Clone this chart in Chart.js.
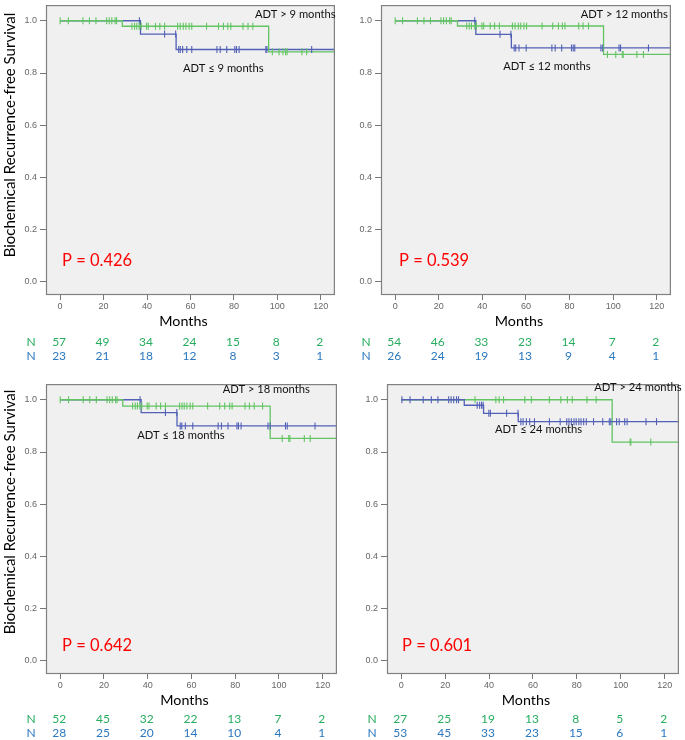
<!DOCTYPE html>
<html>
<head>
<meta charset="utf-8">
<script src="https://cdn.jsdelivr.net/npm/chart.js@4.4.1/dist/chart.umd.min.js"></script>
<style>
  html, body { margin: 0; padding: 0; background: #fff; }
  #wrap { position: relative; width: 685px; height: 740px; overflow: hidden; }
  canvas { position: absolute; }
</style>
</head>
<body>
<div id="wrap">
  <canvas id="c1" width="340" height="370" style="left:0px;top:0px;width:340px;height:370px"></canvas>
  <canvas id="c2" width="336" height="370" style="left:340px;top:0px;width:336px;height:370px"></canvas>
  <canvas id="c3" width="342" height="361" style="left:0px;top:379px;width:342px;height:361px"></canvas>
  <canvas id="c4" width="344" height="361" style="left:340px;top:379px;width:344px;height:361px"></canvas>
</div>
<script>
// --------------- Data ---------------
const xTicks = [0, 20, 40, 60, 80, 100, 120];
const yTicks = [0, 0.2, 0.4, 0.6, 0.8, 1.0];
const cutoffs = ["9", "12", "18", "24"];
const pValues = ["0.426", "0.539", "0.642", "0.601"];

// numbers at risk (green = ADT > cutoff, blue = ADT <= cutoff)
const atRiskLong9 = [57, 49, 34, 24, 15, 8, 2];
const atRiskShort9 = [23, 21, 18, 12, 8, 3, 1];
const atRiskLong12 = [54, 46, 33, 23, 14, 7, 2];
const atRiskShort12 = [26, 24, 19, 13, 9, 4, 1];
const atRiskLong18 = [52, 45, 32, 22, 13, 7, 2];
const atRiskShort18 = [28, 25, 20, 14, 10, 4, 1];
const atRiskLong24 = [27, 25, 19, 13, 8, 5, 2];
const atRiskShort24 = [53, 45, 33, 23, 15, 6, 1];

// Kaplan-Meier steps (months, survival)
const kmTimeLong9 = [0, 28.6, 96, 127];
const kmSurvLong9 = [1, 0.979, 0.881, 0.881];
const kmTimeShort9 = [0, 37, 53.4, 127];
const kmSurvShort9 = [1, 0.949, 0.890, 0.890];

const kmTimeLong12 = [0, 28.6, 95.6, 127];
const kmSurvLong12 = [1, 0.980, 0.871, 0.871];
const kmTimeShort12 = [0, 37, 53.3, 127];
const kmSurvShort12 = [1, 0.948, 0.896, 0.896];

const kmTimeLong18 = [0, 28.6, 96, 127];
const kmSurvLong18 = [1, 0.976, 0.852, 0.852];
const kmTimeShort18 = [0, 37, 53.4, 127];
const kmSurvShort18 = [1, 0.951, 0.900, 0.900];

const kmTimeLong24 = [0, 96.1, 127];
const kmSurvLong24 = [1, 0.838, 0.838];
const kmTimeShort24 = [0, 28.7, 37.5, 53.3, 127];
const kmSurvShort24 = [1, 0.979, 0.948, 0.916, 0.916];

// censored observations (months)
const censorLong9 = [0, 3.8, 10.5, 13.5, 16.5, 21.4, 22.6, 23.8, 25.3, 26,
  33.1, 34.3, 35.3, 36.4, 37.3, 39.8, 40.6, 43.9, 45.9, 48.1, 54.1, 55.3, 56.7, 57.9,
  59.4, 60.6, 67.4, 72.9, 75.2, 77.2, 78.6, 84.2, 86.5, 88.7,
  97.7, 100.8, 102.6, 103.8, 104.5, 111.3, 113.5];
const censorShort9 = [36.5, 48.1, 53.2, 54.6, 55.3, 56.4, 58.3, 60.6, 72.2, 73.7, 76.7,
  80.4, 81.2, 82.4, 94.7, 95.2, 115.8];

const censorLong12 = [0, 3.4, 10.2, 13.2, 16.2, 21, 22.2, 23.5, 25, 25.7,
  32.8, 34, 35, 36.5, 37.3, 39.8, 40.6, 43.6, 45.6, 47.8, 53.8, 55, 56.5, 57.6,
  59.1, 60.3, 67.4, 72.3, 74.9, 76.7, 77.9, 84.2, 86.2, 88.7,
  97.4, 101.2, 104.2, 104.6, 110.9, 113.9];
const censorShort12 = [36.5, 48.1, 53.1, 54.6, 55.3, 56.8, 60.1, 71.9, 73.4, 76.4,
  80.9, 81.7, 82.4, 94.4, 95.2, 102.7, 103.4, 116.2];

const censorLong18 = [0, 3.8, 10.5, 13.5, 16.5, 21.4, 22.6, 23.8, 25.3, 26,
  33.1, 34.3, 35.3, 36.4, 37.3, 39.8, 40.6, 43.9, 45.9, 48.1, 54.6, 55.7, 56.7, 57.9,
  59.4, 60.6, 67.4, 72.9, 75.2, 77.5, 78.6, 84.5, 86.5, 88.7, 92.5,
  101.5, 104.5, 105, 111.6, 114.3];
const censorShort18 = [36.5, 48.1, 53.3, 54.9, 55.6, 57.2, 60.6, 72.2, 73.7, 76.7,
  80.8, 81.5, 82.7, 95, 96, 103, 103.8, 116.5];

const censorLong24 = [33.6, 43.1, 44.6, 46.6, 56.3, 59.3, 67.5, 72.7, 75.7, 77.9,
  84.6, 88.8, 104.3, 104.6, 113.7];
const censorShort24 = [0.3, 4, 10, 13.7, 16.7, 21.6, 22.7, 23.9, 25.2, 26.1,
  34.6, 35.7, 36.6, 37.3, 39.9, 40.6, 48, 53.2,
  54.5, 55.5, 57, 58.5, 60.7, 67.5, 72.4, 75.4, 76.4, 77.5, 78.7, 79.7, 80.9, 81.9,
  83.1, 84.3, 87.6, 91.8, 94.8, 95.5, 98.1, 99.3, 101.8, 102.9, 111.5, 116.3];

// --------------- Styles ---------------
const greenLine = '#62c462';
const blueLine = '#5260b6';
const greenText = '#27ad5f';
const blueText = '#2c78bf';
const labelFont = 'Lato, "Open Sans", sans-serif';
const tickFont = '"Liberation Sans", Arial, sans-serif';

// --------------- Helper Functions ---------------

// survival value of a step curve at time t
function stepAt(times, surv, t) {
  let s = surv[0];
  for (let i = 0; i < times.length; i++) {
    if (times[i] <= t) s = surv[i];
  }
  return s;
}

function kmDataset(times, surv, color, order) {
  return {
    data: times.map((t, i) => ({ x: t, y: surv[i] })),
    borderColor: color,
    borderWidth: 1.3,
    stepped: 'before',
    pointRadius: 0,
    fill: false,
    order: order
  };
}

function censorDataset(censors, times, surv, color, order) {
  return {
    data: censors.map(t => ({ x: t, y: stepAt(times, surv, t) })),
    showLine: false,
    pointStyle: 'line',
    rotation: 90,
    pointRadius: 3.5,
    pointBorderWidth: 1.1,
    pointBorderColor: color,
    borderColor: color,
    order: order
  };
}

// background, frame and all texts of one panel
function decorPlugin(p) {
  return {
    id: 'decor',
    beforeDraw(chart) {
      const a = chart.chartArea;
      const ctx = chart.ctx;
      ctx.save();
      ctx.fillStyle = '#f0f0f0';
      ctx.fillRect(a.left, a.top, a.right - a.left, a.bottom - a.top);
      ctx.restore();
    },
    afterDraw(chart) {
      const a = chart.chartArea;
      const ctx = chart.ctx;
      const xs = chart.scales.x;
      ctx.save();
      ctx.strokeStyle = '#808080';
      ctx.lineWidth = 1.2;
      ctx.strokeRect(a.left + 0.5, a.top + 0.5, a.right - a.left - 1, a.bottom - a.top - 1);

      // group labels
      ctx.fillStyle = '#111';
      ctx.font = '11.2px ' + labelFont;
      ctx.textBaseline = 'middle';
      ctx.textAlign = 'left';
      ctx.fillText('ADT > ' + p.cutoff + ' months', p.longLabel[0], p.longLabel[1]);
      ctx.fillText('ADT \u2264 ' + p.cutoff + ' months', p.shortLabel[0], p.shortLabel[1]);

      // p value
      ctx.fillStyle = '#ff0000';
      ctx.font = '16.5px ' + labelFont;
      ctx.fillText('P = ' + p.pValue, a.left + p.pPos[0], a.bottom - p.pPos[1]);

      // axis title
      ctx.fillStyle = '#000';
      ctx.font = '14.3px ' + labelFont;
      ctx.textAlign = 'center';
      ctx.fillText('Months', (a.left + a.right) / 2 - 7, a.bottom + 26.5);

      // numbers at risk
      ctx.font = '12px ' + labelFont;
      [[p.long, greenText, p.riskY[0]], [p.short, blueText, p.riskY[1]]].forEach(([row, color, dy]) => {
        ctx.fillStyle = color;
        ctx.fillText('N', a.left - 15, a.bottom + dy);
        row.forEach((n, i) => ctx.fillText(String(n), xs.getPixelForValue(xTicks[i]) - 1, a.bottom + dy));
      });

      // y axis title (left column only)
      if (p.yTitle) {
        ctx.translate(10, p.yTitle);
        ctx.rotate(-Math.PI / 2);
        ctx.fillStyle = '#000';
        ctx.font = '15px ' + labelFont;
        ctx.fillText('Biochemical Recurrence-free Survival', 0, 0);
      }
      ctx.restore();
    }
  };
}

// --------------- Chart ---------------
function makePanel(id, p) {
  const ctx = document.getElementById(id).getContext('2d');
  const greenOrder = p.blueOnTop ? 2 : 1;
  const blueOrder = p.blueOnTop ? 1 : 2;
  return new Chart(ctx, {
    type: 'line',
    data: {
      datasets: [
        kmDataset(p.tShort, p.sShort, blueLine, blueOrder + 2),
        kmDataset(p.tLong, p.sLong, greenLine, greenOrder + 2),
        censorDataset(p.cShort, p.tShort, p.sShort, blueLine, blueOrder),
        censorDataset(p.cLong, p.tLong, p.sLong, greenLine, greenOrder)
      ]
    },
    options: {
      responsive: false,
      animation: false,
      layout: { padding: 0 },
      plugins: { legend: { display: false }, tooltip: { enabled: false } },
      scales: {
        x: {
          type: 'linear',
          min: -6.5,
          max: 126.5,
          afterBuildTicks: s => { s.ticks = xTicks.map(v => ({ value: v })); },
          afterFit: s => {
            s.height = p.xHeight;
            s.paddingLeft = 0; s.paddingRight = 0;
          },
          grid: { drawOnChartArea: false, tickLength: 5, color: '#777' },
          border: { display: false },
          ticks: { font: { size: 9, family: tickFont }, color: '#666', padding: 1.5, maxRotation: 0 }
        },
        y: {
          min: -0.05,
          max: 1.06,
          afterBuildTicks: s => { s.ticks = yTicks.map(v => ({ value: v })); },
          afterFit: s => {
            s.width = p.yWidth;
            s.paddingTop = 0; s.paddingBottom = 0;
          },
          grid: { drawOnChartArea: false, tickLength: 6, color: '#777' },
          border: { display: false },
          ticks: {
            font: { size: 9, family: tickFont }, color: '#666', padding: 3,
            callback: v => v.toFixed(1)
          }
        }
      }
    },
    plugins: [decorPlugin(p)]
  });
}

// --------------- Initialize ---------------
makePanel('c1', {
  cutoff: cutoffs[0], pValue: pValues[0],
  tLong: kmTimeLong9, sLong: kmSurvLong9, cLong: censorLong9, long: atRiskLong9,
  tShort: kmTimeShort9, sShort: kmSurvShort9, cShort: censorShort9, short: atRiskShort9,
  yWidth: 46, xHeight: 75, yTitle: 135,
  longLabel: [255, 14.3], shortLabel: [183, 68.3], pPos: [16, 34.5], riskY: [47.3, 60.7]
});
makePanel('c2', {
  cutoff: cutoffs[1], pValue: pValues[1],
  tLong: kmTimeLong12, sLong: kmSurvLong12, cLong: censorLong12, long: atRiskLong12,
  tShort: kmTimeShort12, sShort: kmSurvShort12, cShort: censorShort12, short: atRiskShort12,
  yWidth: 41, xHeight: 75, yTitle: 0,
  longLabel: [240.7, 14.7], shortLabel: [163.3, 66.7], pPos: [18, 34.5], riskY: [47.3, 60.7]
});
makePanel('c3', {
  cutoff: cutoffs[2], pValue: pValues[2],
  tLong: kmTimeLong18, sLong: kmSurvLong18, cLong: censorLong18, long: atRiskLong18,
  tShort: kmTimeShort18, sShort: kmSurvShort18, cShort: censorShort18, short: atRiskShort18,
  yWidth: 46, xHeight: 66, yTitle: 133,
  longLabel: [222.7, 10], shortLabel: [137.3, 56], pPos: [16, 28], riskY: [45, 58.7]
});
makePanel('c4', {
  cutoff: cutoffs[3], pValue: pValues[3],
  tLong: kmTimeLong24, sLong: kmSurvLong24, cLong: censorLong24, long: atRiskLong24,
  tShort: kmTimeShort24, sShort: kmSurvShort24, cShort: censorShort24, short: atRiskShort24,
  yWidth: 47, xHeight: 66, yTitle: 0, blueOnTop: true,
  longLabel: [254.3, 8.7], shortLabel: [155, 50.3], pPos: [15, 28], riskY: [45, 58.7]
});
</script>
</body>
</html>
